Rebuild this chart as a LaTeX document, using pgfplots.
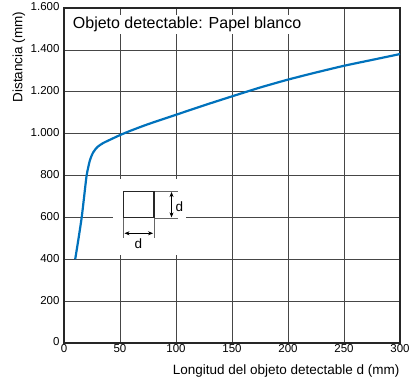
\documentclass[border=0pt]{standalone}
\usepackage{pgfplots}
\pgfplotsset{compat=1.18}
\usepackage{fontspec}
\setmainfont{Liberation Sans}
\usetikzlibrary{arrows.meta}

\definecolor{curveblue}{RGB}{0,114,188}
\definecolor{gridgray}{RGB}{70,70,70}

\begin{document}
\begin{tikzpicture}
\begin{axis}[
  scale only axis,
  width=336pt, height=335pt,
  xmin=0, xmax=300, ymin=0, ymax=1600,
  xtick={0,50,...,300},
  ytick={0,200,...,1600},
  grid=major,
  major grid style={gridgray, line width=0.6pt},
  major tick length=0pt,
  axis line style={black!85, line width=1.2pt},
  /pgf/number format/assume math mode=true,
  /pgf/number format/1000 sep={.},
  tick label style={font=\fontsize{11.5}{13}\selectfont},
  xticklabel style={yshift=2pt},
  yticklabel style={xshift=-1pt, yshift=1pt},
  xlabel={Longitud del objeto detectable d (mm)},
  xlabel style={font=\fontsize{13.5}{15}\selectfont, at={(rel axis cs:1,0)}, anchor=north east, yshift=-18pt, xshift=3pt},
  ylabel={Distancia (mm)},
  ylabel style={font=\fontsize{13.5}{15}\selectfont, at={(axis description cs:-0.105,1)}, anchor=south east},
]
% inset: white backing, square with dimension marks
\fill[white] (axis cs:44,420) rectangle (axis cs:109,785);
\draw[black!60, line width=0.5pt] (axis cs:80.4,723) -- (axis cs:102,723);
\draw[black!60, line width=0.5pt] (axis cs:80.4,598) -- (axis cs:102,598);
\draw[black!60, line width=0.5pt] (axis cs:53,598) -- (axis cs:53,503);
\draw[black!60, line width=0.5pt] (axis cs:80.4,598) -- (axis cs:80.4,503);
\draw[black!85, line width=1.1pt] (axis cs:53,598) rectangle (axis cs:80.4,723);
\draw[{Stealth[length=5pt,width=4pt]}-{Stealth[length=5pt,width=4pt]}, line width=0.6pt]
  (axis cs:96,600) -- (axis cs:96,721);
\draw[{Stealth[length=5pt,width=4pt]}-{Stealth[length=5pt,width=4pt]}, line width=0.6pt]
  (axis cs:54,524) -- (axis cs:79.5,524);
\node[font=\fontsize{13.5}{15}\selectfont] at (axis cs:103,650) {d};
\node[font=\fontsize{13.5}{15}\selectfont] at (axis cs:66.4,475) {d};

\addplot[curveblue, line width=2.2pt, smooth, tension=0.4] coordinates {
  (10,400) (13,500) (15.8,600) (18,700) (20.2,800) (23,870) (26,910)
  (30,937) (35,955) (40,968) (50,993) (60,1015) (75,1045) (100,1090)
  (125,1135) (150,1178) (175,1220) (200,1258) (225,1292) (250,1324)
  (275,1352) (300,1380)
};

\node[anchor=west, fill=white, inner sep=2pt, font=\fontsize{16}{18}\selectfont]
  at (axis cs:6,1520) {Objeto detectable: Papel blanco};
\end{axis}
\pgfresetboundingbox
\path[use as bounding box] ([shift={(-64pt,-42pt)}]current axis.south west)
  rectangle ([shift={(11pt,8pt)}]current axis.north east);
\end{tikzpicture}
\end{document}
